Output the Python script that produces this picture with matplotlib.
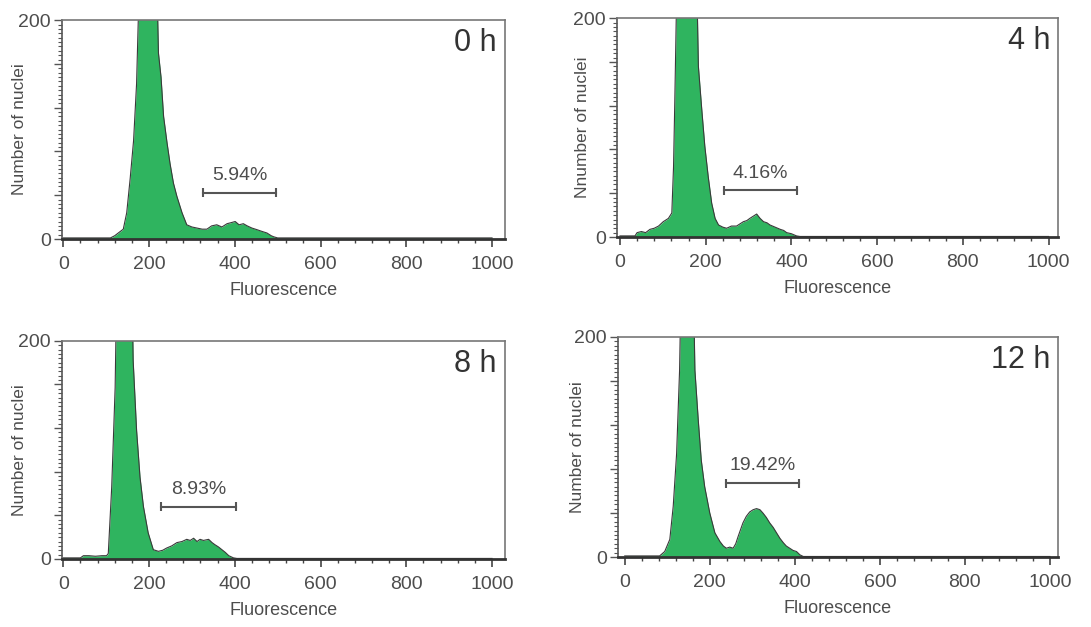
import matplotlib
matplotlib.use("Agg")
import matplotlib.pyplot as plt
from matplotlib.ticker import MultipleLocator, FixedLocator, FuncFormatter

plt.rcParams['font.family'] = ['Liberation Sans', 'DejaVu Sans']

GREEN = '#2fb45f'
TXT = '#4d4d4d'

# histogram outlines (fluorescence channel, count)
x0 = [0, 110, 120, 130, 140, 148, 156, 164, 171, 179, 217, 222, 228, 234, 242, 249, 257, 265, 277,
      288, 300, 312, 324, 335, 346, 358, 370, 382, 392, 401, 410, 420, 429, 440, 452, 463, 475, 485,
      491, 500, 1000]
y0 = [1, 1, 3, 6, 9, 24, 55, 90, 142, 260, 260, 170, 148, 112, 88, 69, 51, 39, 24,
      13, 11, 10, 9, 9, 12, 13, 11, 14, 15, 16, 13, 14, 12, 10, 8.5, 7, 5.5, 3,
      2, 1, 1]

x4 = [0, 35, 40, 50, 60, 70, 80, 90, 101, 113, 121, 125, 128, 134, 178, 183, 191, 198, 206, 214,
      222, 230, 240, 249, 260, 272, 280, 288, 296, 303, 311, 319, 327, 335, 343, 350, 362, 374,
      382, 389, 400, 412, 420, 1000]
y4 = [1, 1, 4, 5, 4, 7, 8, 10, 14, 17, 22, 64, 125, 260, 260, 156, 116, 83, 55, 31,
      17, 11, 9, 8, 10, 10, 12, 14, 15, 17, 19, 21, 17, 14, 13, 11, 9, 7,
      6, 4, 3, 1, 0.5, 0.5]

x8 = [0, 40, 47, 60, 75, 90, 101, 105, 113, 121, 125, 160, 163, 171, 179, 187, 198, 210, 222, 232,
      241, 253, 265, 277, 288, 296, 304, 312, 319, 327, 339, 347, 354, 362, 370, 378, 386, 397,
      405, 1000]
y8 = [1, 1, 3, 3, 2.5, 3, 3, 5, 66, 157, 260, 260, 182, 118, 75, 48, 24, 8.5, 7, 8,
      10, 12, 15, 16, 18, 17, 19, 16, 18, 17, 18, 15, 13, 11, 8.5, 6, 3, 1,
      0.5, 0.5]

x12 = [0, 82, 94, 106, 114, 122, 129, 133, 161, 165, 173, 180, 188, 200, 212, 224, 232, 239, 247,
       255, 261, 267, 278, 286, 294, 302, 310, 318, 325, 333, 341, 349, 357, 365, 373, 380, 388,
       396, 404, 412, 420, 1000]
y12 = [1, 1, 5, 16, 46, 94, 170, 260, 260, 170, 124, 88, 64, 40, 22, 14, 10, 8, 9,
       8, 12, 19, 31, 37, 41, 43, 44, 43, 40, 36, 31, 27, 22, 17, 13, 10, 8,
       6, 5, 2, 0.5, 0.5]

times = ['0 h', '4 h', '8 h', '12 h']
ylabels = ['Number of nuclei', 'Nnumber of nuclei', 'Number of nuclei', 'Number of nuclei']
pcts = ['5.94%', '4.16%', '8.93%', '19.42%']
gate_lo = [326, 243, 228, 239]
gate_hi = [497, 412, 402, 410]
gate_y = [42.5, 42.6, 48, 67]

xs = [x0, x4, x8, x12]
ys = [y0, y4, y8, y12]

# axes rectangles (left, bottom, width, height) and x-limits per panel
rects = [(0.0568, 0.6188, 0.406, 0.349), (0.5655, 0.622, 0.4042, 0.349),
         (0.0568, 0.1085, 0.406, 0.348), (0.5664, 0.1116, 0.4033, 0.351)]
xlims = [(-3, 1030), (-7, 1022), (-3, 1030), (-16, 1019)]
ylab_x = [-0.095, -0.079, -0.095, -0.091]

fig = plt.figure(figsize=(10.91, 6.27), dpi=100, facecolor='white')

for i in range(4):
    ax = fig.add_axes(rects[i])
    ax.fill_between(xs[i], ys[i], 0, color=GREEN, linewidth=0)
    ax.plot(xs[i], ys[i], color='#3a3a3a', lw=0.8)
    ax.set_xlim(*xlims[i])
    ax.set_ylim(0, 200)

    # gate bar
    yc = gate_y[i]
    ax.plot([gate_lo[i], gate_hi[i]], [yc, yc], color='#555555', lw=1.5)
    ax.vlines([gate_lo[i], gate_hi[i]], yc - 4, yc + 4, color='#555555', lw=1.5)
    ax.text((gate_lo[i] + gate_hi[i]) / 2, yc + 8, pcts[i], ha='center', va='bottom',
            fontsize=14, color=TXT)

    ax.text(0.982, 0.963, times[i], transform=ax.transAxes, ha='right', va='top',
            fontsize=22, color='#333333')

    ax.set_xlabel('Fluorescence', fontsize=13, color=TXT, labelpad=7)
    ax.set_ylabel(ylabels[i], fontsize=12.5, color=TXT, va='center')
    ax.yaxis.set_label_coords(ylab_x[i], 0.5)

    ax.xaxis.set_major_locator(MultipleLocator(200))
    ax.xaxis.set_minor_locator(MultipleLocator(40))
    ax.yaxis.set_major_locator(FixedLocator([0, 40, 80, 120, 160, 200]))
    ax.yaxis.set_minor_locator(MultipleLocator(4))
    ax.yaxis.set_major_formatter(FuncFormatter(lambda v, p: f'{v:.0f}' if v in (0, 200) else ''))

    ax.tick_params(axis='x', which='major', direction='out', length=6, width=1.2,
                   color='#444444', labelsize=14, labelcolor=TXT, pad=6)
    ax.tick_params(axis='x', which='minor', direction='out', length=3, width=1,
                   color='#444444')
    ax.tick_params(axis='y', which='major', direction='out', length=6, width=1,
                   color='#555555', labelsize=14, labelcolor=TXT, pad=2)
    ax.tick_params(axis='y', which='minor', direction='out', length=3, width=0.8,
                   color='#555555')

    ax.spines['bottom'].set_color('#333333')
    ax.spines['bottom'].set_linewidth(2)
    ax.spines['left'].set_color('#555555')
    ax.spines['left'].set_linewidth(1.2)
    for s in ('top', 'right'):
        ax.spines[s].set_color('#777777')
        ax.spines[s].set_linewidth(1.2)

fig.savefig('out.png', dpi=100, facecolor='white')
